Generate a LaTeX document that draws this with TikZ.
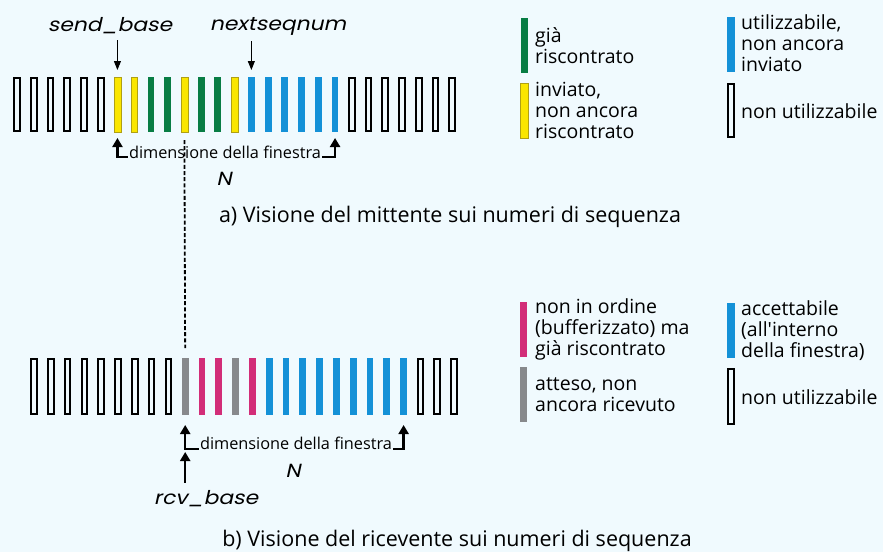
\documentclass[tikz,border=0pt]{standalone}
\usepackage{fontspec}
\setmainfont{Open Sans}
\newfontfamily\geo[FakeSlant=0.22,FakeStretch=1.15]{Poppins}
\usetikzlibrary{arrows.meta}
\definecolor{bg}{RGB}{240,250,254}
\definecolor{cG}{RGB}{8,125,68}
\definecolor{cY}{RGB}{250,230,0}
\definecolor{cYd}{RGB}{175,160,20}
\definecolor{cB}{RGB}{20,145,215}
\definecolor{cM}{RGB}{210,45,120}
\definecolor{cA}{RGB}{135,137,140}
\begin{document}
\begin{tikzpicture}[x=1pt,y=-1pt,
  bar/.style={inner sep=0pt, outer sep=0pt, minimum width=6.8pt, minimum height=\rowh pt},
  barK/.style={inner sep=0pt, outer sep=0pt, draw=black, line width=2pt, fill=bg, minimum width=5.6pt, minimum height=\rowh pt-2pt},
  barY/.style={bar, fill=cY, draw=cYd, line width=0.5pt},
  barG/.style={bar, fill=cG},
  barB/.style={bar, fill=cB},
  barM/.style={bar, fill=cM},
  barA/.style={bar, fill=cA},
  lbl/.style={font=\geo\fontsize{19}{21}\selectfont, inner sep=1pt},
  wtxt/.style={font=\fontsize{16.3}{18}\selectfont, inner sep=1pt},
  ltxt/.style={font=\fontsize{19.5}{21}\selectfont, inner sep=0pt, align=left, anchor=west},
  captxt/.style={font=\fontsize{21.5}{23}\selectfont, inner sep=0pt},
  thinarr/.style={line width=0.9pt, -{Triangle[width=7pt,length=9pt]}},
  warr/.style={line width=2.4pt, -{Triangle[width=10pt,length=9pt]}},
  dotl/.style={line width=1.8pt, dash pattern=on 4pt off 2.2pt},
]
\fill[bg] (0,0) rectangle (883,552);
\useasboundingbox (0,0) rectangle (883,552);

% top row (sender)
\def\rowh{55}
\foreach \c [count=\i from 0] in {K,K,K,K,K,K,Y,Y,G,G,Y,G,G,Y,B,B,B,B,B,B,K,K,K,K,K,K,K}
  \node[bar\c] (t\i) at ({17+16.74*\i},104.5) {};

% bottom row (receiver)
\def\rowh{57}
\foreach \c [count=\i from 0] in {K,K,K,K,K,K,K,K,K,A,M,M,A,M,B,B,B,B,B,B,B,B,B,K,K,K}
  \node[bar\c] (b\i) at ({34+16.8*\i},386.5) {};

% sender labels
\node[lbl] (sb) at (110,26) {send\_base};
\node[lbl] (ns) at (278,26) {nextseqnum};
\draw[thinarr] (sb.south -| t6.north) ++(0,5) -- ([yshift=7pt]t6.north);
\draw[thinarr] (ns.south -| t14.north) ++(0,5) -- ([yshift=7pt]t14.north);

% sender window
\node[wtxt] (w1) at (225,152) {dimensione della finestra};
\coordinate (w1l) at (t6 |- 0,157);
\coordinate (w1r) at (t19 |- 0,157);
\draw[warr] (w1.west |- w1l) -- (w1l) -- ([yshift=-6pt]t6.south);
\draw[warr] (w1.east |- w1r) -- (w1r) -- ([yshift=-6pt]t19.south);
\node[lbl] (n1) at (224,179) {N};

% dotted link
\draw[dotl, shorten >=10pt] (t10.south) ++(0,8) -- (b9.north);

\node[captxt] (ca) at (450,217) {a) Visione del mittente sui numeri di sequenza};

% receiver window
\node[wtxt] (w2) at (296,443) {dimensione della finestra};
\coordinate (w2l) at (b9 |- 0,449);
\coordinate (w2r) at (b22 |- 0,449);
\draw[warr] (w2.west |- w2l) -- (w2l) -- ([yshift=-10pt]b9.south);
\draw[warr] (w2.east |- w2r) -- (w2r) -- ([yshift=-10pt]b22.south);
\node[lbl] (n2) at (293,471) {N};
\node[lbl] (rb) at (206,499) {rcv\_base};
\draw[warr] (rb.north -| b9.south) ++(0,-7) -- ([yshift=-37pt]b9.south);

\node[captxt] (cb) at (457,541) {b) Visione del ricevente sui numeri di sequenza};

% legend sender
\def\rowh{55}
\node[barG, minimum width=7.6pt] (lg1) at (524.5,45.5) {};
\node[ltxt] (lt1) at (535,45.5) {già\\riscontrato};
\node[barY, minimum width=7.6pt] (lg2) at (524.5,110.5) {};
\node[ltxt] (lt2) at (535,110.5) {inviato,\\non ancora\\riscontrato};
\node[barB, minimum width=8pt] (lg3) at (731,44.5) {};
\node[ltxt] (lt3) at (741,43.5) {utilizzabile,\\non ancora\\inviato};
\node[barK] (lg4) at (731,110.5) {};
\node[ltxt] (lt4) at (741,111) {non utilizzabile};

% legend receiver
\node[barM, minimum width=7.4pt] (lg5) at (523.7,329) {};
\node[ltxt] (lt5) at (535,329) {non in ordine\\(bufferizzato) ma\\già riscontrato};
\node[barA, minimum width=7.4pt] (lg6) at (523.7,394.3) {};
\node[ltxt] (lt6) at (535,394.3) {atteso, non\\ancora ricevuto};
\node[barB, minimum width=8pt] (lg7) at (731,330.5) {};
\node[ltxt] (lt7) at (741,330.5) {accettabile\\(all\textquotesingle interno\\della finestra)};
\def\rowh{57}
\node[barK] (lg8) at (731,396.5) {};
\node[ltxt] (lt8) at (741,397) {non utilizzabile};
\end{tikzpicture}
\end{document}
